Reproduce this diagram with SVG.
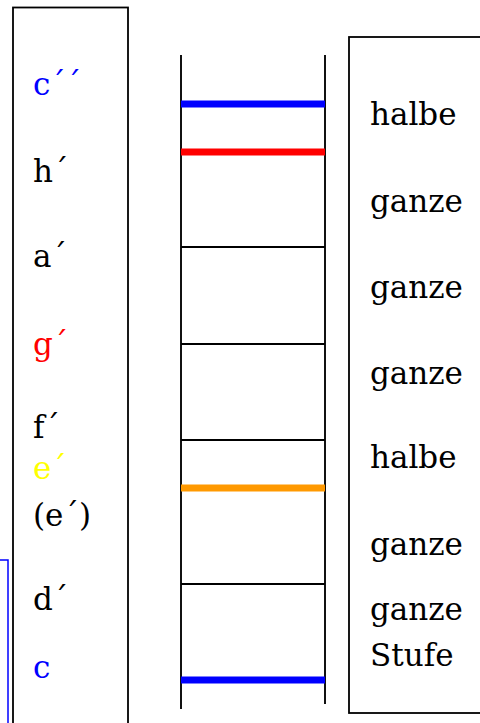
<svg xmlns="http://www.w3.org/2000/svg" width="480" height="723" viewBox="0 0 480 723">
<style>
text{font-size:31px;fill:#000}
.box{fill:#fff;stroke:#000;stroke-width:1.8}
.rail{stroke:#111;stroke-width:2}
.rung{stroke:#000;stroke-width:1.8}
.thick{stroke-width:7}
</style>
<rect width="480" height="723" fill="#fff"/>
<g id="blue-box"><rect x="-50" y="560" width="58" height="300" fill="none" stroke="#0000ff" stroke-width="1.5"/></g>
<g id="notes" font-family="DejaVu Serif">
<rect class="box" x="13" y="7.5" width="115" height="800"/>
<text x="33" y="95" style="fill:#0000ff">c´´</text>
<text x="33" y="182">h´</text>
<text x="33" y="267">a´</text>
<text x="33" y="355" style="fill:#ff0000">g´</text>
<text x="33" y="438">f´</text>
<text x="33" y="479" style="fill:#ffff00">e´</text>
<text x="33" y="526">(e´)</text>
<text x="33" y="610">d´</text>
<text x="33" y="678" style="fill:#0000ff">c</text>
</g>
<g id="ladder">
<line class="rail" x1="181" y1="55" x2="181" y2="709"/>
<line class="rail" x1="325" y1="55" x2="325" y2="704"/>
<line class="rung" x1="181" y1="247" x2="325" y2="247"/>
<line class="rung" x1="181" y1="344" x2="325" y2="344"/>
<line class="rung" x1="181" y1="440" x2="325" y2="440"/>
<line class="rung" x1="181" y1="584" x2="325" y2="584"/>
<line class="thick" stroke="#0000ff" x1="181" y1="104" x2="325" y2="104"/>
<line class="thick" stroke="#ff0000" x1="181" y1="152" x2="325" y2="152"/>
<line class="thick" stroke="#ff9900" x1="181" y1="488" x2="325" y2="488"/>
<line class="thick" stroke="#0000ff" x1="181" y1="680" x2="325" y2="680"/>
</g>
<g id="steps" font-family="DejaVu Serif">
<rect class="box" x="349" y="37" width="200" height="676"/>
<text x="370" y="125">halbe</text>
<text x="370" y="212">ganze</text>
<text x="370" y="298">ganze</text>
<text x="370" y="384">ganze</text>
<text x="370" y="468">halbe</text>
<text x="370" y="555">ganze</text>
<text x="370" y="620">ganze</text>
<text x="370" y="666">Stufe</text>
</g>
</svg>
